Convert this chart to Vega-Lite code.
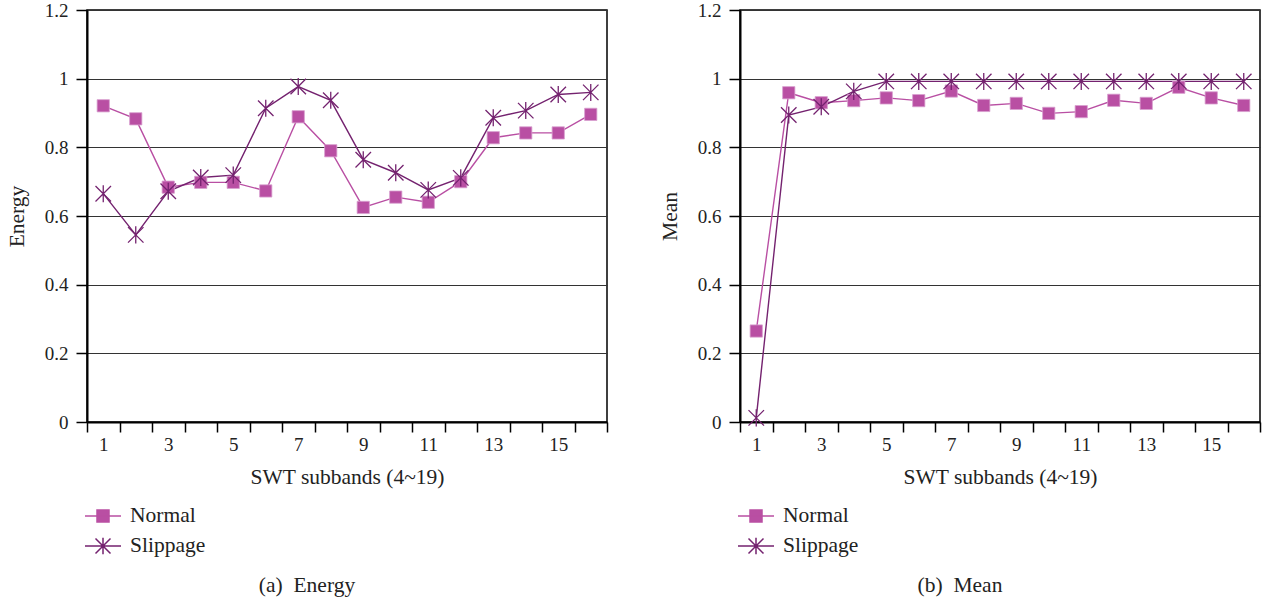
{
  "$schema": "https://vega.github.io/schema/vega-lite/v6.json",
  "padding": {"left": 5, "top": 0, "right": 3, "bottom": 2},
  "background": "white",
  "config": {
    "font": "Liberation Serif",
    "view": {"stroke": "#000", "strokeWidth": 1.5},
    "axis": {"labelFont": "Liberation Serif", "titleFont": "Liberation Serif", "labelFontSize": 19, "titleFontSize": 21.5, "titleFontWeight": "normal", "labelColor": "#222", "titleColor": "#222", "domainColor": "#000", "tickColor": "#000"},
    "legend": {"labelFont": "Liberation Serif", "labelFontSize": 21.5, "labelColor": "#222"},
    "title": {"font": "Liberation Serif", "fontSize": 21.5, "fontWeight": "normal", "color": "#222"}
  },
  "datasets": {
    "vals": [
      {"metric": "Energy", "series": "Normal", "band": 1, "value": 0.921},
      {"metric": "Energy", "series": "Normal", "band": 2, "value": 0.883},
      {"metric": "Energy", "series": "Normal", "band": 3, "value": 0.684},
      {"metric": "Energy", "series": "Normal", "band": 4, "value": 0.698},
      {"metric": "Energy", "series": "Normal", "band": 5, "value": 0.698},
      {"metric": "Energy", "series": "Normal", "band": 6, "value": 0.673},
      {"metric": "Energy", "series": "Normal", "band": 7, "value": 0.889},
      {"metric": "Energy", "series": "Normal", "band": 8, "value": 0.79},
      {"metric": "Energy", "series": "Normal", "band": 9, "value": 0.625},
      {"metric": "Energy", "series": "Normal", "band": 10, "value": 0.655},
      {"metric": "Energy", "series": "Normal", "band": 11, "value": 0.64},
      {"metric": "Energy", "series": "Normal", "band": 12, "value": 0.70},
      {"metric": "Energy", "series": "Normal", "band": 13, "value": 0.828},
      {"metric": "Energy", "series": "Normal", "band": 14, "value": 0.842},
      {"metric": "Energy", "series": "Normal", "band": 15, "value": 0.842},
      {"metric": "Energy", "series": "Normal", "band": 16, "value": 0.896},
      {"metric": "Energy", "series": "Slippage", "band": 1, "value": 0.665},
      {"metric": "Energy", "series": "Slippage", "band": 2, "value": 0.545},
      {"metric": "Energy", "series": "Slippage", "band": 3, "value": 0.672},
      {"metric": "Energy", "series": "Slippage", "band": 4, "value": 0.712},
      {"metric": "Energy", "series": "Slippage", "band": 5, "value": 0.719},
      {"metric": "Energy", "series": "Slippage", "band": 6, "value": 0.914},
      {"metric": "Energy", "series": "Slippage", "band": 7, "value": 0.977},
      {"metric": "Energy", "series": "Slippage", "band": 8, "value": 0.937},
      {"metric": "Energy", "series": "Slippage", "band": 9, "value": 0.764},
      {"metric": "Energy", "series": "Slippage", "band": 10, "value": 0.726},
      {"metric": "Energy", "series": "Slippage", "band": 11, "value": 0.676},
      {"metric": "Energy", "series": "Slippage", "band": 12, "value": 0.711},
      {"metric": "Energy", "series": "Slippage", "band": 13, "value": 0.886},
      {"metric": "Energy", "series": "Slippage", "band": 14, "value": 0.907},
      {"metric": "Energy", "series": "Slippage", "band": 15, "value": 0.954},
      {"metric": "Energy", "series": "Slippage", "band": 16, "value": 0.96},
      {"metric": "Mean", "series": "Normal", "band": 1, "value": 0.265},
      {"metric": "Mean", "series": "Normal", "band": 2, "value": 0.959},
      {"metric": "Mean", "series": "Normal", "band": 3, "value": 0.93},
      {"metric": "Mean", "series": "Normal", "band": 4, "value": 0.936},
      {"metric": "Mean", "series": "Normal", "band": 5, "value": 0.944},
      {"metric": "Mean", "series": "Normal", "band": 6, "value": 0.936},
      {"metric": "Mean", "series": "Normal", "band": 7, "value": 0.964},
      {"metric": "Mean", "series": "Normal", "band": 8, "value": 0.922},
      {"metric": "Mean", "series": "Normal", "band": 9, "value": 0.928},
      {"metric": "Mean", "series": "Normal", "band": 10, "value": 0.899},
      {"metric": "Mean", "series": "Normal", "band": 11, "value": 0.904},
      {"metric": "Mean", "series": "Normal", "band": 12, "value": 0.937},
      {"metric": "Mean", "series": "Normal", "band": 13, "value": 0.928},
      {"metric": "Mean", "series": "Normal", "band": 14, "value": 0.975},
      {"metric": "Mean", "series": "Normal", "band": 15, "value": 0.944},
      {"metric": "Mean", "series": "Normal", "band": 16, "value": 0.922},
      {"metric": "Mean", "series": "Slippage", "band": 1, "value": 0.012},
      {"metric": "Mean", "series": "Slippage", "band": 2, "value": 0.894},
      {"metric": "Mean", "series": "Slippage", "band": 3, "value": 0.918},
      {"metric": "Mean", "series": "Slippage", "band": 4, "value": 0.963},
      {"metric": "Mean", "series": "Slippage", "band": 5, "value": 0.992},
      {"metric": "Mean", "series": "Slippage", "band": 6, "value": 0.992},
      {"metric": "Mean", "series": "Slippage", "band": 7, "value": 0.992},
      {"metric": "Mean", "series": "Slippage", "band": 8, "value": 0.992},
      {"metric": "Mean", "series": "Slippage", "band": 9, "value": 0.992},
      {"metric": "Mean", "series": "Slippage", "band": 10, "value": 0.992},
      {"metric": "Mean", "series": "Slippage", "band": 11, "value": 0.992},
      {"metric": "Mean", "series": "Slippage", "band": 12, "value": 0.992},
      {"metric": "Mean", "series": "Slippage", "band": 13, "value": 0.992},
      {"metric": "Mean", "series": "Slippage", "band": 14, "value": 0.992},
      {"metric": "Mean", "series": "Slippage", "band": 15, "value": 0.992},
      {"metric": "Mean", "series": "Slippage", "band": 16, "value": 0.992}
    ]
  },
  "data": {"name": "vals"},
  "spacing": 49,
  "hconcat": [
    {
      "width": 520,
      "height": 412,
      "title": {"text": "(a)\u00a0\u00a0Energy", "orient": "bottom", "frame": "bounds", "anchor": "middle", "offset": 17},
      "transform": [{"filter": "datum.metric === 'Energy'"}],
      "encoding": {
        "x": {"field": "band", "type": "quantitative", "title": "SWT subbands (4~19)",
          "scale": {"domain": [0.5, 16.5], "nice": false, "zero": false},
          "axis": {"values": [0.5,1,1.5,2,2.5,3,3.5,4,4.5,5,5.5,6,6.5,7,7.5,8,8.5,9,9.5,10,10.5,11,11.5,12,12.5,13,13.5,14,14.5,15,15.5,16,16.5],
            "format": "~g", "labelExpr": "datum.value % 2 === 1 ? datum.label : ''",
            "tickOpacity": {"condition": {"test": "datum.value % 1 === 0", "value": 0}, "value": 1},
            "tickSize": 10, "tickWidth": 1.5, "domainWidth": 2, "grid": false, "labelPadding": 3, "titlePadding": 12, "labelFlush": false, "labelOverlap": false}},
        "y": {"field": "value", "type": "quantitative", "title": "Energy",
          "scale": {"domain": [0, 1.2], "nice": false},
          "axis": {"values": [0, 0.2, 0.4, 0.6, 0.8, 1, 1.2], "format": "~g", "grid": true, "gridColor": "#333", "gridOpacity": 1, "gridWidth": 1.2, "tickSize": 11, "tickWidth": 1.5, "domainWidth": 2, "labelPadding": 8, "titlePadding": 16}}
      },
      "layer": [
        {
          "mark": {"type": "line", "strokeWidth": 1.4},
          "encoding": {
            "color": {"field": "series", "type": "nominal",
              "scale": {"domain": ["Normal", "Slippage"], "range": ["#b94fa3", "#74226f"]},
              "legend": {"title": null, "orient": "bottom", "direction": "vertical", "symbolSize": 900, "symbolStrokeWidth": 1.5, "labelOffset": 11, "rowPadding": 3, "offset": 12,
                "encode": {"symbols": {"update": {
                  "shape": {"signal": "datum.value === 'Normal' ? 'M-1.2,0H1.2M-0.4,-0.4H0.4V0.4H-0.4Z' : 'M-1.2,0H1.2M-0.5,-0.5L0.5,0.5M0.5,-0.5L-0.5,0.5M0,-0.55V0.55'"},
                  "fill": {"signal": "datum.value === 'Normal' ? '#b94fa3' : 'transparent'"},
                  "fillOpacity": {"value": 1},
                  "strokeWidth": {"value": 1.5}
                }}}}}
          }
        },
        {
          "transform": [{"filter": "datum.series === 'Normal'"}],
          "mark": {"type": "point", "shape": "square", "filled": true, "size": 150, "color": "#b94fa3", "opacity": 1, "stroke": "#d8a0cf", "strokeWidth": 0.8}
        },
        {
          "transform": [{"filter": "datum.series === 'Slippage'"}],
          "mark": {"type": "point", "shape": "M-1,-1L1,1M1,-1L-1,1M0,-1.1V1.1", "filled": false, "size": 240, "color": "#74226f", "opacity": 1, "strokeWidth": 1.3}
        }
      ]
    },
    {
      "width": 520,
      "height": 412,
      "title": {"text": "(b)\u00a0\u00a0Mean", "orient": "bottom", "frame": "bounds", "anchor": "middle", "offset": 17},
      "transform": [{"filter": "datum.metric === 'Mean'"}],
      "encoding": {
        "x": {"field": "band", "type": "quantitative", "title": "SWT subbands (4~19)",
          "scale": {"domain": [0.5, 16.5], "nice": false, "zero": false},
          "axis": {"values": [0.5,1,1.5,2,2.5,3,3.5,4,4.5,5,5.5,6,6.5,7,7.5,8,8.5,9,9.5,10,10.5,11,11.5,12,12.5,13,13.5,14,14.5,15,15.5,16,16.5],
            "format": "~g", "labelExpr": "datum.value % 2 === 1 ? datum.label : ''",
            "tickOpacity": {"condition": {"test": "datum.value % 1 === 0", "value": 0}, "value": 1},
            "tickSize": 10, "tickWidth": 1.5, "domainWidth": 2, "grid": false, "labelPadding": 3, "titlePadding": 12, "labelFlush": false, "labelOverlap": false}},
        "y": {"field": "value", "type": "quantitative", "title": "Mean",
          "scale": {"domain": [0, 1.2], "nice": false},
          "axis": {"values": [0, 0.2, 0.4, 0.6, 0.8, 1, 1.2], "format": "~g", "grid": true, "gridColor": "#333", "gridOpacity": 1, "gridWidth": 1.2, "tickSize": 11, "tickWidth": 1.5, "domainWidth": 2, "labelPadding": 8, "titlePadding": 16}}
      },
      "layer": [
        {
          "mark": {"type": "line", "strokeWidth": 1.4},
          "encoding": {
            "color": {"field": "series", "type": "nominal",
              "scale": {"domain": ["Normal", "Slippage"], "range": ["#b94fa3", "#74226f"]},
              "legend": {"title": null, "orient": "bottom", "direction": "vertical", "symbolSize": 900, "symbolStrokeWidth": 1.5, "labelOffset": 11, "rowPadding": 3, "offset": 12,
                "encode": {"symbols": {"update": {
                  "shape": {"signal": "datum.value === 'Normal' ? 'M-1.2,0H1.2M-0.4,-0.4H0.4V0.4H-0.4Z' : 'M-1.2,0H1.2M-0.5,-0.5L0.5,0.5M0.5,-0.5L-0.5,0.5M0,-0.55V0.55'"},
                  "fill": {"signal": "datum.value === 'Normal' ? '#b94fa3' : 'transparent'"},
                  "fillOpacity": {"value": 1},
                  "strokeWidth": {"value": 1.5}
                }}}}}
          }
        },
        {
          "transform": [{"filter": "datum.series === 'Normal'"}],
          "mark": {"type": "point", "shape": "square", "filled": true, "size": 150, "color": "#b94fa3", "opacity": 1, "stroke": "#d8a0cf", "strokeWidth": 0.8}
        },
        {
          "transform": [{"filter": "datum.series === 'Slippage'"}],
          "mark": {"type": "point", "shape": "M-1,-1L1,1M1,-1L-1,1M0,-1.1V1.1", "filled": false, "size": 240, "color": "#74226f", "opacity": 1, "strokeWidth": 1.3}
        }
      ]
    }
  ],
  "resolve": {"scale": {"color": "independent"}}
}
